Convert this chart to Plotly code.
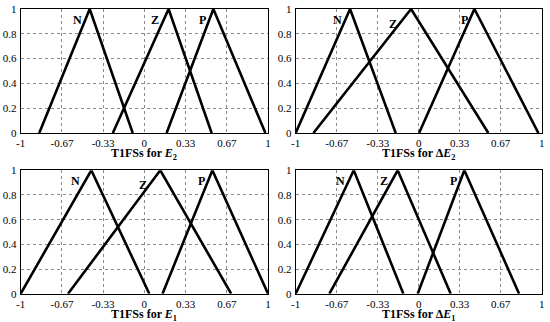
import plotly.graph_objects as go

# membership function vertices (left foot, peak, right foot)
membership = [0, 1, 0]

E2_N = [-0.85, -0.442, -0.094]
E2_Z = [-0.255, 0.196, 0.544]
E2_P = [0.18, 0.558, 0.979]

dE2_N = [-1.0, -0.558, -0.187]
dE2_Z = [-0.856, -0.062, 0.566]
dE2_P = [0.003, 0.453, 0.973]

E1_N = [-1.0, -0.429, 0.040]
E1_Z = [-0.617, 0.129, 0.702]
E1_P = [0.147, 0.55, 1.0]

dE1_N = [-1.0, -0.528, -0.125]
dE1_Z = [-0.726, -0.171, 0.26]
dE1_P = [-0.008, 0.371, 0.816]

set_names = ["N", "Z", "P"]
label_x = {
    "E2": [-0.544, 0.083, 0.469],
    "dE2": [-0.658, -0.211, 0.371],
    "E1": [-0.555, -0.008, 0.464],
    "dE1": [-0.634, -0.282, 0.282],
}
label_y = {
    "E2": [0.91, 0.91, 0.91],
    "dE2": [0.91, 0.88, 0.91],
    "E1": [0.91, 0.88, 0.91],
    "dE1": [0.91, 0.91, 0.91],
}

x_tickvals = [-1, -2/3, -1/3, 0, 1/3, 2/3, 1]
x_ticktext = ["-1", "-0.67", "-0.33", "0", "0.33", "0.67", "1"]
y_tickvals = [0, 0.2, 0.4, 0.6, 0.8, 1]
y_ticktext = ["0", "0.2", "0.4", "0.6", "0.8", "1"]

panels = [
    ("E2", [E2_N, E2_Z, E2_P], "<b>T1FSs for <i>E</i><sub>2</sub></b>"),
    ("dE2", [dE2_N, dE2_Z, dE2_P], "<b>T1FSs for Δ<i>E</i><sub>2</sub></b>"),
    ("E1", [E1_N, E1_Z, E1_P], "<b>T1FSs for <i>E</i><sub>1</sub></b>"),
    ("dE1", [dE1_N, dE1_Z, dE1_P], "<b>T1FSs for Δ<i>E</i><sub>1</sub></b>"),
]

W, H = 550, 322
x_domains = [[20.7 / W, 268 / W], [295.7 / W, 541.7 / W]]
y_domains = [[(H - 133) / H, (H - 9) / H], [(H - 293.7) / H, (H - 170.3) / H]]
title_y_px = [154, 314.5]

FONT = "Liberation Serif"

fig = go.Figure()
annotations = []
for i, (key, sets, title) in enumerate(panels):
    row, col = divmod(i, 2)
    n = i + 1
    xa = "x" if n == 1 else f"x{n}"
    ya = "y" if n == 1 else f"y{n}"
    for s in sets:
        fig.add_trace(go.Scatter(x=s, y=membership, mode="lines",
                                 line=dict(color="black", width=2.6),
                                 xaxis=xa, yaxis=ya, showlegend=False,
                                 hoverinfo="skip"))
    for name, lx, ly in zip(set_names, label_x[key], label_y[key]):
        annotations.append(dict(x=lx, y=ly, xref=xa, yref=ya, text=f"<b>{name}</b>",
                                showarrow=False, font=dict(family=FONT, size=12, color="black")))
    xd = x_domains[col]
    annotations.append(dict(x=(xd[0] + xd[1]) / 2, y=1 - title_y_px[row] / H,
                            xref="paper", yref="paper", text=title, showarrow=False,
                            xanchor="center", yanchor="middle",
                            font=dict(family=FONT, size=12, color="black")))
    axcommon = dict(showline=True, linecolor="black", linewidth=1, mirror=True,
                    showgrid=True, gridcolor="#8a8a8a", griddash="dot", gridwidth=1,
                    zeroline=False, ticks="", automargin=False,
                    tickfont=dict(family=FONT, size=11, color="black"))
    lx_name = "xaxis" if n == 1 else f"xaxis{n}"
    ly_name = "yaxis" if n == 1 else f"yaxis{n}"
    fig.layout[lx_name] = dict(domain=x_domains[col], range=[-1, 1], anchor=ya,
                               tickmode="array", tickvals=x_tickvals, ticktext=x_ticktext,
                               ticklabelstandoff=0, **axcommon)
    fig.layout[ly_name] = dict(domain=y_domains[row], range=[0, 1], anchor=xa,
                               tickmode="array", tickvals=y_tickvals, ticktext=y_ticktext,
                               ticklabelstandoff=1, **axcommon)

fig.update_layout(width=W, height=H, margin=dict(l=0, r=0, t=0, b=0, autoexpand=False),
                  paper_bgcolor="white", plot_bgcolor="white",
                  font=dict(family=FONT, color="black"),
                  annotations=annotations, showlegend=False)
fig.write_html("out.html", config={"displayModeBar": False},
               post_script="document.body.style.margin='0';document.body.style.overflow='hidden';")
